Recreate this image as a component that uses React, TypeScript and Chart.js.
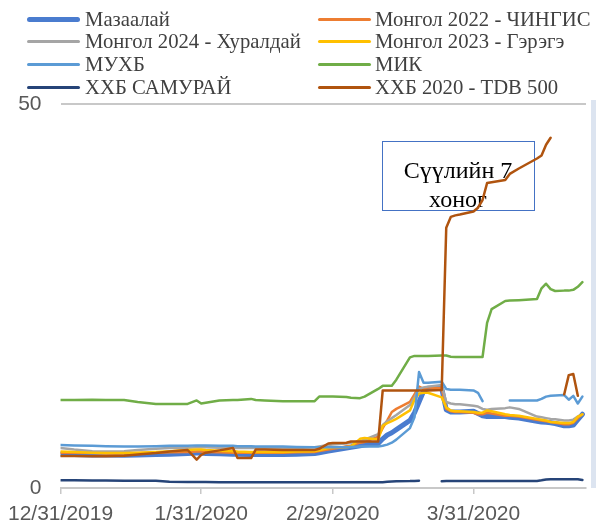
import React, { useEffect, useRef } from "react";
import { Chart, registerables } from "chart.js";

Chart.register(...registerables);

// days since 12/31/2019
const days = [
  0, 3, 7, 10, 14, 17, 21, 24, 28, 30,
  31, 32, 35, 38, 39, 42, 43, 45, 49, 52,
  56, 57, 59, 60, 63, 64, 66, 67, 70, 71,
  72, 73, 74, 77, 78, 79, 80, 81, 84, 85,
  86, 87, 88, 91, 92, 93, 94, 95, 98, 99,
  101, 105, 106, 107, 108, 109, 111, 112, 113, 114,
  115,
];

const tickDays = [0, 31, 60, 91];
const tickLabels = ["12/31/2019", "1/31/2020", "2/29/2020", "3/31/2020"];
const yTicks = [0, 50];

const mazaalai = [
  4.4, 4.35, 4.3, 4.3, 4.25, 4.3, 4.35, 4.4, 4.5, 4.55,
  4.55, 4.5, 4.45, 4.4, 4.4, 4.35, 4.35, 4.35, 4.35, 4.4,
  4.5, 4.6, 4.8, 4.9, 5.2, 5.3, 5.5, 5.6, 5.8, 6.4,
  6.9, 7.2, 7.6, 8.8, 9.8, 11.2, 12.6, 13.0, 13.0, 10.2,
  9.9, 9.9, 9.9, 10.0, 9.7, 9.4, 9.3, 9.3, 9.3, 9.2,
  9.1, 8.7, 8.6, 8.55, 8.5, 8.4, 8.1, 8.1, 8.2, 8.9,
  9.6,
];

const mongol2022 = [
  4.6, 4.6, 4.55, 4.5, 4.5, 4.55, 4.6, 4.65, 4.7, 4.75,
  4.75, 4.7, 4.65, 4.6, 4.6, 4.6, 4.6, 4.6, 4.6, 4.65,
  4.7, 4.8, 5.0, 5.1, 5.4, 5.5, 5.9, 6.0, 6.7, 7.8,
  8.8, 9.9, 10.3, 11.2, 12.2, 13.2, 12.9, 13.1, 13.0, 10.3,
  10.0, 9.9, 9.9, 9.8, 9.6, 9.6, 9.8, 9.7, 9.4, 9.4,
  9.3, 8.9, 8.8, 8.7, 8.6, 8.5, 8.3, 8.3, 8.5, 9.1,
  9.6,
];

const mongol2024 = [
  5.2, 5.0, 4.8, 4.75, 4.8, 4.95, 5.1, 5.2, 5.25, 5.3,
  5.3, 5.3, 5.25, 5.2, 5.2, 5.2, 5.2, 5.2, 5.2, 5.2,
  5.3, 5.4, 5.6, 5.65, 5.8, 5.9, 6.1, 6.3, 7.0, 8.2,
  8.7, 9.1, 9.5, 10.8, 11.8, 12.9, 13.1, 13.2, 13.4, 11.2,
  11.0, 10.9, 10.9, 10.7, 10.6, 10.3, 10.2, 10.3, 10.4, 10.5,
  10.3, 9.3, 9.2, 9.1, 9.0, 8.95, 8.8, 8.8, 8.9, 9.3,
  9.6,
];

const mongol2023 = [
  4.75, 4.7, 4.6, 4.55, 4.55, 4.6, 4.7, 4.8, 4.95, 5.0,
  5.0, 4.95, 4.85, 4.8, 4.75, 4.7, 4.7, 4.7, 4.7, 4.75,
  4.8, 4.9, 5.2, 5.3, 5.3, 5.4, 6.4, 6.5, 6.3, 8.1,
  8.45, 8.7, 9.0, 10.1, 11.5, 12.3, 12.4, 12.4, 11.8, 10.5,
  10.1, 10.0, 10.0, 9.9, 9.8, 9.8, 10.1, 10.0, 9.6, 9.5,
  9.4, 9.0, 8.9, 8.8, 8.6, 8.55, 8.45, 8.45, 8.6, 9.3,
  9.6,
];

const muhb = [
  5.6, 5.55, 5.5, 5.45, 5.4, 5.4, 5.45, 5.5, 5.5, 5.55,
  5.55, 5.55, 5.5, 5.5, 5.45, 5.45, 5.4, 5.4, 5.4, 5.35,
  5.3, 5.3, 5.3, 5.3, 5.3, 5.35, 5.4, 5.4, 5.4, 5.5,
  5.65, 5.9, 6.3, 7.8, 9.2, 15.1, 13.7, 13.7, 13.85, 12.9,
  12.8, 12.8, 12.8, 12.7, 12.4, 11.3, null, null, null, 11.4,
  11.4, 11.4, 11.6, 11.9, 12.0, 12.05, 12.1, 11.5, 12.0, 11.0,
  11.9,
];

const mik = [
  11.46, 11.46, 11.5, 11.46, 11.46, 11.2, 10.95, 10.95, 10.95, 11.4,
  11.0, 11.1, 11.4, 11.45, 11.45, 11.6, 11.45, 11.4, 11.3, 11.3,
  11.3, 11.9, 11.9, 11.9, 11.85, 11.75, 11.7, 11.9, 12.9, 13.3,
  13.3, 13.3, 14.1, 17.0, 17.2, 17.2, 17.2, 17.2, 17.25, 17.25,
  17.1, 17.06, 17.06, 17.06, 17.06, 17.06, 21.5, 23.3, 24.35, 24.4,
  24.45, 24.6, 26.0, 26.6, 25.9, 25.65, 25.7, 25.7, 25.8, 26.2,
  26.8,
];

const samurai = [
  1.0, 1.0, 0.98, 0.97, 0.96, 0.95, 0.93, 0.8, 0.78, 0.77,
  0.77, 0.77, 0.76, 0.76, 0.76, 0.76, 0.76, 0.76, 0.75, 0.75,
  0.75, 0.75, 0.75, 0.75, 0.75, 0.75, 0.75, 0.75, 0.75, 0.76,
  0.8, 0.85, 0.88, 0.9, 0.92, 0.95, null, null, 0.88, 0.9,
  0.9, 0.9, 0.9, 0.9, 0.9, 0.9, 0.9, 0.9, 0.9, 0.92,
  0.92, 0.92, 1.0, 1.1, 1.15, 1.15, 1.15, 1.15, 1.15, 1.15,
  1.05,
];

const tdb500 = [
  4.17, 4.17, 4.15, 4.15, 4.2, 4.35, 4.55, 4.75, 4.95, 3.7,
  4.3, 4.6, 4.9, 5.2, 3.9, 3.9, 5.0, 5.0, 4.95, 4.95,
  4.95, 5.1, 5.8, 5.85, 5.9, 6.05, 6.05, 6.05, 6.05, 12.7,
  12.7, 12.7, 12.7, 12.7, 12.7, 12.7, 12.7, 12.7, 12.75, 33.9,
  35.3, 35.5, 35.6, 36.0, 36.5, 37.5, 39.7, 39.8, 40.1, 40.9,
  41.6, 42.9, 43.3, 44.7, 45.6, null, 12.2, 14.7, 14.85, 12.0,
  null,
];

const seriesNames = [
  "Мазаалай",
  "Монгол 2022 - ЧИНГИС",
  "Монгол 2024 - Хуралдай",
  "Монгол 2023 - Гэрэгэ",
  "МУХБ",
  "МИК",
  "ХХБ САМУРАЙ",
  "ХХБ 2020 - TDB 500",
];
const seriesValues = [mazaalai, mongol2022, mongol2024, mongol2023, muhb, mik, samurai, tdb500];
const seriesColors = ["#4A7CCF", "#ED7D31", "#A5A5A5", "#FFC000", "#5B9BD5", "#70AD47", "#264478", "#B0540F"];
const seriesWidths = [5, 2.5, 2.5, 2.5, 2.5, 2.5, 2.5, 2.5];

const noteLines = ["Сүүлийн 7", "хоног"];

const notePlugin = {
  id: "noteBox",
  beforeDatasetsDraw(chart: any) {
    const c = chart.ctx;
    c.save();
    c.strokeStyle = "#4472C4";
    c.lineWidth = 1;
    c.strokeRect(382.5, 141.5, 152, 69);
    c.fillStyle = "#000000";
    c.font = '24px "Liberation Serif", "Times New Roman", serif';
    c.textAlign = "center";
    c.textBaseline = "alphabetic";
    c.fillText(noteLines[0], 458, 178);
    c.fillText(noteLines[1], 458, 207);
    c.restore();
  },
};

export default function App() {
  const ref = useRef<HTMLCanvasElement>(null);

  useEffect(() => {
    const canvas = ref.current;
    if (!canvas) return;
    const n = seriesNames.length;
    const chart = new Chart(canvas, {
      type: "line",
      data: {
        datasets: seriesNames.map((name, i) => ({
          label: name,
          data: days.map((d, j) => ({ x: d, y: seriesValues[i][j] })),
          borderColor: seriesColors[i],
          backgroundColor: seriesColors[i],
          borderWidth: seriesWidths[i],
          pointRadius: 0,
          fill: false,
          tension: 0,
          spanGaps: false,
          borderJoinStyle: "round",
          borderCapStyle: "round",
          order: n - i,
        })) as any,
      },
      options: {
        responsive: false,
        animation: false,
        devicePixelRatio: 1,
        layout: { padding: { top: 104, right: 10, left: 0, bottom: 0 } },
        plugins: { legend: { display: false }, tooltip: { enabled: false } },
        scales: {
          x: {
            type: "linear",
            min: 0,
            max: 115.8,
            afterBuildTicks: (ax: any) => {
              ax.ticks = tickDays.map((v) => ({ value: v }));
            },
            afterFit: (ax: any) => {
              ax.height = 37;
            },
            ticks: {
              autoSkip: false,
              maxRotation: 0,
              padding: 8,
              color: "#595959",
              font: { family: "'Liberation Sans', Arial, sans-serif", size: 21 },
              callback: (v: any) => tickLabels[tickDays.indexOf(Number(v))],
            },
            grid: {
              drawOnChartArea: false,
              drawTicks: true,
              tickLength: 6,
              color: "#C8C8C8",
              lineWidth: 1.5,
            },
            border: { display: true, color: "#C8C8C8", width: 2 },
          },
          y: {
            type: "linear",
            min: 0,
            max: 50,
            afterBuildTicks: (ax: any) => {
              ax.ticks = yTicks.map((v) => ({ value: v }));
            },
            afterFit: (ax: any) => {
              ax.width = 57;
            },
            ticks: {
              padding: 19,
              color: "#595959",
              font: { family: "'Liberation Sans', Arial, sans-serif", size: 21 },
            },
            grid: {
              display: true,
              drawOnChartArea: true,
              drawTicks: false,
              color: "#C8C8C8",
              lineWidth: 2,
            },
            border: { display: false },
          },
        },
      } as any,
      plugins: [notePlugin],
    });
    return () => chart.destroy();
  }, []);

  const legendRowY = [19, 41.7, 64.3, 87];
  const legendCols = [
    { lineX: 27, lineW: 53, textX: 85 },
    { lineX: 318, lineW: 53, textX: 375 },
  ];

  return (
    <div style={{ position: "absolute", left: 0, top: 0, width: 596, height: 525, background: "#fff", overflow: "hidden" }}>
      <canvas ref={ref} width={596} height={525} style={{ display: "block", position: "absolute", left: 0, top: 0 }} />
      <div style={{ position: "absolute", left: 591, top: 100, width: 5, height: 388, background: "#DCE4F0" }} />
      {seriesNames.map((name, i) => {
        const col = legendCols[i % 2];
        const cy = legendRowY[Math.floor(i / 2)];
        const w = seriesWidths[i] > 3 ? 5 : 3;
        return (
          <React.Fragment key={name}>
            <div
              style={{
                position: "absolute",
                left: col.lineX,
                top: cy - w / 2,
                width: col.lineW,
                height: w,
                background: seriesColors[i],
                borderRadius: w / 2,
              }}
            />
            <div
              style={{
                position: "absolute",
                left: col.textX,
                top: cy - 12.5,
                height: 25,
                lineHeight: "25px",
                fontSize: 20.7,
                fontFamily: '"Liberation Serif", "Times New Roman", serif',
                color: "#404040",
                whiteSpace: "nowrap",
              }}
            >
              {name}
            </div>
          </React.Fragment>
        );
      })}
    </div>
  );
}
